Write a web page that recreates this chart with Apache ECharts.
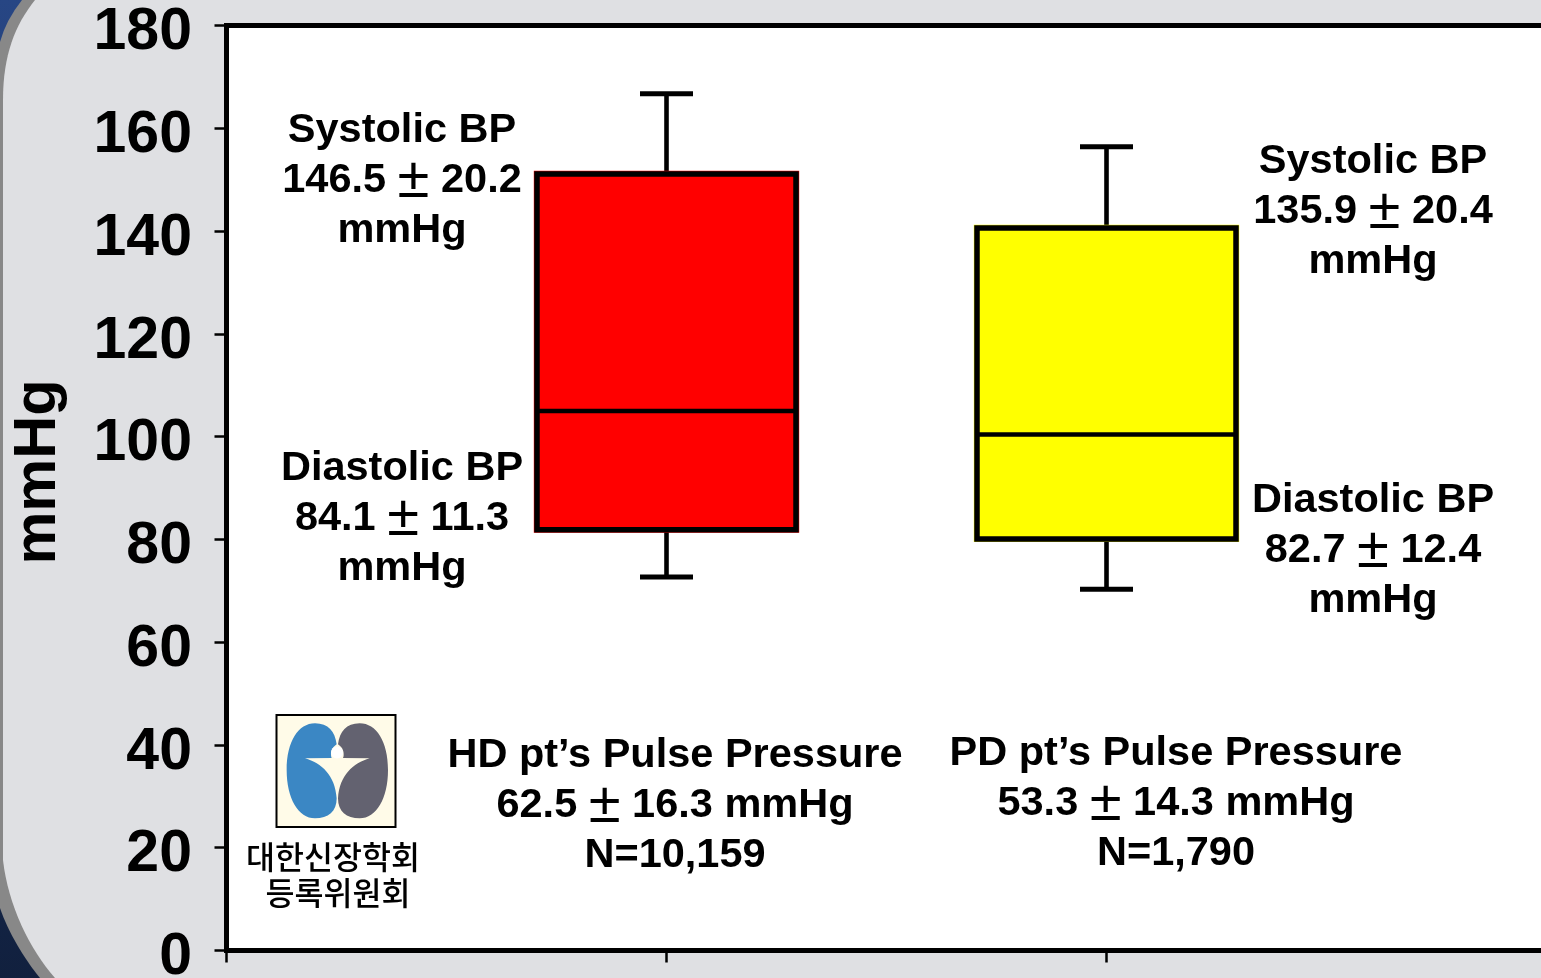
<!DOCTYPE html>
<html>
<head>
<meta charset="utf-8">
<style>html,body{margin:0;padding:0;background:#12203f;overflow:hidden}#c{width:1541px;height:978px}</style>
<script src="https://cdn.jsdelivr.net/npm/echarts@6/dist/echarts.min.js"></script>
</head>
<body>
<div id="c"></div>
<script>
var categories = ['', 'HD', 'PD', ''];
var groupIndex = [1, 2];
var whiskerLow = [72.7, 70.3];
var boxLow = [81.9, 80.1];
var boxMedian = [105, 100.4];
var boxHigh = [151.1, 140.6];
var whiskerHigh = [166.7, 156.4];
var boxColors = ['#ff0000', '#ffff00'];
var yTicks = [0, 180, 20];

var FONT = '"Liberation Sans", Arial, sans-serif';
var KR = '"Noto Sans CJK KR", sans-serif';
var BOX_W = 259, CAP_W = 53;

function regPath(name, d) { echarts.graphic.registerShape(name, echarts.graphic.extendPath(d, {})); }
regPath('kidneyShape', 'M150 55C190 55 210 80 215 118C205 125 197 135 198 150C198 154 199 157 200 159L120 160C170 175 210 210 215 280C215 320 190 340 150 340C100 340 65 280 65 195C65 110 100 55 150 55Z');
regPath('rimShape', 'M22 0Q6 20 0 42L0 908C8 932 25 960 40 978L1541 978L1541 0Z');
regPath('panelShape', 'M35 0C15 25 3 55 3 100L3 860C8 905 30 950 55 978L1541 978L1541 0Z');

function label(x, y, text) {
  return { type: 'text', z: 10, x: x, y: y, silent: true,
    style: { text: text.replace('±', '{pm|±}'), fill: '#000', font: 'bold 41.5px ' + FONT, align: 'center', verticalAlign: 'middle', lineHeight: 50,
      rich: { pm: { fontFamily: 'Liberation Sans', fontWeight: 'normal', fontSize: 58, lineHeight: 50, verticalAlign: 'middle', fill: '#000', color: '#000' } } } };
}

var background = [
  { type: 'rect', z: -3, silent: true, shape: { x: 0, y: 0, width: 1541, height: 978 },
    style: { fill: new echarts.graphic.LinearGradient(0, 0, 0, 1, [{ offset: 0, color: '#274684' }, { offset: 1, color: '#11203e' }]) } },
  { type: 'rimShape', z: -2, silent: true, style: { fill: '#888888' } },
  { type: 'panelShape', z: -1, silent: true, style: { fill: '#dfe0e3' } }
];
var logo = [
  { type: 'rect', z: 10, silent: true, shape: { x: 276.5, y: 715, width: 119, height: 112 }, style: { fill: '#fffbe8', stroke: '#000', lineWidth: 2 } },
  { type: 'kidneyShape', z: 11, silent: true, x: 265, y: 705, scaleX: 1 / 3, scaleY: 1 / 3, style: { fill: '#3b87c4' } },
  { type: 'kidneyShape', z: 11, silent: true, x: 409.67, y: 705, scaleX: -1 / 3, scaleY: 1 / 3, style: { fill: '#636270' } },
  { type: 'circle', z: 12, silent: true, shape: { cx: 337, cy: 752.5, r: 6 }, style: { fill: '#ffffff' } }
];
var texts = [
  { type: 'text', z: 10, silent: true, x: 39, y: 472, rotation: Math.PI / 2,
    style: { text: 'mmHg', fill: '#000', font: 'bold 59.5px ' + FONT, align: 'center', verticalAlign: 'middle' } },
  label(402, 180.5, 'Systolic BP\n146.5 ± 20.2\nmmHg'),
  label(402, 518.5, 'Diastolic BP\n84.1 ± 11.3\nmmHg'),
  label(1373, 212, 'Systolic BP\n135.9 ± 20.4\nmmHg'),
  label(1373, 550.5, 'Diastolic BP\n82.7 ± 12.4\nmmHg'),
  label(675, 806, 'HD pt’s Pulse Pressure\n62.5 ± 16.3 mmHg\nN=10,159'),
  label(1176, 804, 'PD pt’s Pulse Pressure\n53.3 ± 14.3 mmHg\nN=1,790'),
  { type: 'text', z: 10, silent: true, x: 333, y: 857, style: { text: '대한신장학회', fill: '#000', font: '500 31.5px ' + KR, align: 'center', verticalAlign: 'middle' } },
  { type: 'text', z: 10, silent: true, x: 338, y: 893, style: { text: '등록위원회', fill: '#000', font: '500 31.5px ' + KR, align: 'center', verticalAlign: 'middle' } }
];

function renderBox(params, api) {
  var i = api.value(0);
  var cx = api.coord([i, 0])[0];
  var yLow = api.coord([i, api.value(1)])[1];
  var yQ1 = api.coord([i, api.value(2)])[1];
  var yMed = api.coord([i, api.value(3)])[1];
  var yQ3 = api.coord([i, api.value(4)])[1];
  var yHigh = api.coord([i, api.value(5)])[1];
  var color = boxColors[params.dataIndex];
  function seg(x1, y1, x2, y2, w) {
    return { type: 'line', shape: { x1: x1, y1: y1, x2: x2, y2: y2 }, style: { stroke: '#000', lineWidth: w } };
  }
  return { type: 'group', children: [
    seg(cx, yHigh, cx, yQ3, 4.6),
    seg(cx - CAP_W / 2, yHigh, cx + CAP_W / 2, yHigh, 5),
    seg(cx, yQ1, cx, yLow, 4.6),
    seg(cx - CAP_W / 2, yLow, cx + CAP_W / 2, yLow, 5),
    { type: 'rect', shape: { x: cx - BOX_W / 2 - 3.2, y: yQ3 - 3.2, width: BOX_W + 6.4, height: yQ1 - yQ3 + 6.4 }, style: { fill: color } },
    { type: 'rect', shape: { x: cx - BOX_W / 2, y: yQ3, width: BOX_W, height: yQ1 - yQ3 }, style: { fill: color, stroke: '#000', lineWidth: 5.5 } },
    seg(cx - BOX_W / 2, yMed, cx + BOX_W / 2, yMed, 4.5)
  ] };
}

var chart = echarts.init(document.getElementById('c'), null, { renderer: 'canvas' });
chart.setOption({
  animation: false,
  backgroundColor: 'transparent',
  tooltip: { show: false },
  grid: { left: 226.5, top: 25.5, width: 1320, height: 925, show: true, backgroundColor: '#fff', borderColor: '#000', borderWidth: 5, containLabel: false, outerBoundsMode: 'none' },
  xAxis: { type: 'category', data: categories, boundaryGap: false,
    axisLine: { show: false }, axisLabel: { show: false }, splitLine: { show: false },
    axisTick: { show: true, alignWithLabel: true, length: 12, lineStyle: { color: '#000', width: 2.5 } } },
  yAxis: { type: 'value', min: yTicks[0], max: yTicks[1], interval: yTicks[2], splitLine: { show: false },
    axisLine: { show: false },
    axisTick: { show: true, length: 12, lineStyle: { color: '#000', width: 2.5 } },
    axisLabel: { show: true, margin: 34.5, color: '#000', fontFamily: 'Liberation Sans', fontWeight: 'bold', fontSize: 59, showMinLabel: true, showMaxLabel: true, hideOverlap: false, verticalAlign: 'top', lineHeight: 15 } },
  series: [{
    type: 'custom', renderItem: renderBox, clip: false, encode: { x: 0, y: [1, 2, 3, 4, 5] },
    data: groupIndex.map(function (g, i) { return [g, whiskerLow[i], boxLow[i], boxMedian[i], boxHigh[i], whiskerHigh[i]]; })
  }],
  graphic: { elements: background.concat(logo, texts) }
});
</script>
</body>
</html>
